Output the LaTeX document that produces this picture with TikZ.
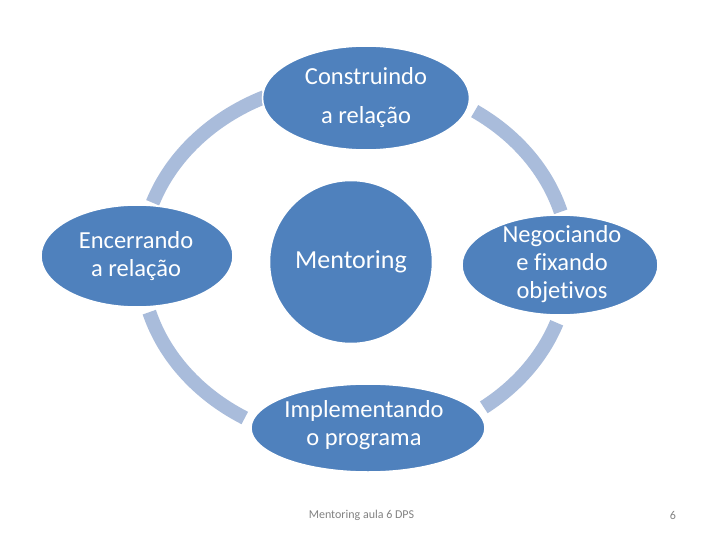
\documentclass[tikz,border=0pt]{standalone}
\usepackage{fontspec}
\setmainfont{Carlito}[Ligatures=NoCommon]
\usetikzlibrary{shapes.geometric}
\definecolor{boxblue}{RGB}{79,129,189}
\definecolor{ringblue}{RGB}{169,188,219}
\definecolor{footgray}{RGB}{130,130,130}
\tikzset{
  ringarc/.style={draw=ringblue, line width=14pt},
  ell/.style={ellipse, fill=boxblue, draw=white, line width=1.5pt, inner sep=0pt},
  lbl/.style={text=white, align=center, font=\fontsize{24.5}{28}\selectfont, inner sep=0pt},
  foot/.style={text=footgray, font=\fontsize{12}{14}\selectfont, inner sep=0pt}
}
\begin{document}
\begin{tikzpicture}[x=1pt,y=-1pt]
\fill[white] (0,0) rectangle (720,540);
\useasboundingbox (0,0) rectangle (720,540);
\coordinate (ringc) at (355,262);
% ring arcs
\draw[ringarc] (ringc) ++(199:214 and 182) arc[start angle=199, end angle=245, x radius=214, y radius=182];
\draw[ringarc] (ringc) ++(304:214 and 182) arc[start angle=304, end angle=344, x radius=214, y radius=182];
\draw[ringarc] (ringc) ++(19.5:214 and 182) arc[start angle=19.5, end angle=53, x radius=214, y radius=182];
\draw[ringarc] (ringc) ++(121:214 and 182) arc[start angle=121, end angle=164, x radius=214, y radius=182];
% ellipses
\node[ell, minimum width=207, minimum height=104] (top) at (366,98) {};
\node[ell, minimum width=192, minimum height=102] (left) at (137,256) {};
\node[ell, minimum width=196, minimum height=100] (right) at (560,265) {};
\node[ell, minimum width=234, minimum height=88] (bottom) at (368,428) {};
\node[circle, fill=boxblue, draw=white, line width=1.5pt, minimum size=163, inner sep=0pt,
      text=white, font=\fontsize{26}{30}\selectfont] (ment) at (351,262) {Mentoring};
% labels
\node[lbl] (topt) at (366,98) {Construindo\\[11pt]a relação};
\node[lbl] (leftt) at (136,256) {Encerrando\\a relação};
\node[lbl] (rightt) at (562,264.5) {Negociando\\e fixando\\objetivos};
\node[lbl] (bottomt) at (364,425) {Implementando\\o programa};
% footer
\node[foot] (ft) at (361.5,515) {Mentoring aula 6 DPS};
\node[foot] (pg) at (673,515) {6};
\end{tikzpicture}
\end{document}
